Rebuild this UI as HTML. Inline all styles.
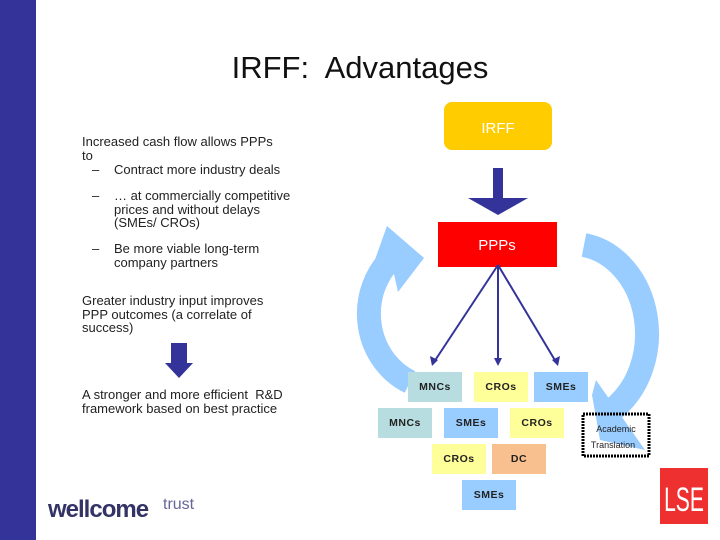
<!DOCTYPE html>
<html><head><style>
body{margin:0;width:720px;height:540px;position:relative;background:#fff;font-family:"Liberation Sans",sans-serif;overflow:hidden}
.a{position:absolute}
.t{font-size:13px;color:#222;line-height:13.5px}
.b{position:absolute;width:54px;height:30px;font-size:10.5px;font-weight:bold;color:#222;display:flex;align-items:center;justify-content:center;letter-spacing:0.5px}
.y{background:#ffff99}.g{background:#b7dde0}.s{background:#99ccff}.o{background:#f8c08f}
</style></head><body>
<div class="a" style="left:0;top:0;width:36px;height:540px;background:#333399"></div>
<div class="a" style="left:0;top:50px;width:720px;text-align:center;font-size:31px;color:#111">IRFF:&nbsp; Advantages</div>
<div class="a t" style="left:82px;top:135px">Increased cash flow allows PPPs<br>to</div>
<div class="a t" style="left:92px;top:163px">–</div><div class="a t" style="left:114px;top:163px">Contract more industry deals</div>
<div class="a t" style="left:92px;top:189px">–</div><div class="a t" style="left:114px;top:189px">… at commercially competitive<br>prices and without delays<br>(SMEs/ CROs)</div>
<div class="a t" style="left:92px;top:242px">–</div><div class="a t" style="left:114px;top:242px">Be more viable long-term<br>company partners</div>
<div class="a t" style="left:82px;top:294px">Greater industry input improves<br>PPP outcomes (a correlate of<br>success)</div>
<div class="a t" style="left:82px;top:388px">A stronger and more efficient&nbsp; R&amp;D<br>framework based on best practice</div>
<svg class="a" style="left:0;top:0" width="720" height="540">
<rect x="171" y="343" width="16" height="20" fill="#333399"/>
<polygon points="165,363 193,363 179,378" fill="#333399"/>
<path d="M410,382 A70,75 0 0 1 392,258" fill="none" stroke="#99ccff" stroke-width="24"/>
<polygon points="387,226 424,258 398,292 392,265 372,268" fill="#99ccff"/>
<path d="M584,245 A75,90 0 0 1 612,410" fill="none" stroke="#99ccff" stroke-width="24"/>
<polygon points="596,380 645,450 600,440 592,395" fill="#99ccff"/>
<rect x="444" y="102" width="108" height="48" rx="8" fill="#ffcc00"/>
<text x="498" y="133" font-size="15" fill="#fff" text-anchor="middle">IRFF</text>
<rect x="493" y="168" width="10" height="30" fill="#333399"/>
<polygon points="468,198 528,198 498,215" fill="#333399"/>
<rect x="438" y="222" width="119" height="45" fill="#ff0000"/>
<text x="497" y="250" font-size="15" fill="#fff" text-anchor="middle">PPPs</text>
<g stroke="#333399" stroke-width="2"><line x1="498" y1="265" x2="434" y2="362"/><line x1="498" y1="265" x2="498" y2="362"/><line x1="498" y1="265" x2="556" y2="362"/></g>
<g fill="#333399"><polygon points="432,366 430,356 438,360"/><polygon points="498,366 494,358 502,358"/><polygon points="558,366 552,360 560,356"/></g>
<rect x="583" y="414" width="66" height="42" fill="none" stroke="#000" stroke-width="3" stroke-dasharray="2,1"/>
<text x="616" y="432" font-size="9" text-anchor="middle" fill="#222">Academic</text>
<text x="613" y="448" font-size="9" text-anchor="middle" fill="#222">Translation</text>
<rect x="660" y="468" width="48" height="56" fill="#ee3030"/>
<text x="684" y="511" font-size="34" fill="#fff" text-anchor="middle" transform="translate(684,0) scale(0.62,1) translate(-684,0)">LSE</text>
<text x="48" y="517" font-size="24" font-weight="bold" fill="#333366" letter-spacing="-1">wellcome</text>
<text x="163" y="509" font-size="16" fill="#666699">trust</text>
</svg>
<div class="b g" style="left:408px;top:372px">MNCs</div>
<div class="b y" style="left:474px;top:372px">CROs</div>
<div class="b s" style="left:534px;top:372px">SMEs</div>
<div class="b g" style="left:378px;top:408px">MNCs</div>
<div class="b s" style="left:444px;top:408px">SMEs</div>
<div class="b y" style="left:510px;top:408px">CROs</div>
<div class="b y" style="left:432px;top:444px">CROs</div>
<div class="b o" style="left:492px;top:444px">DC</div>
<div class="b s" style="left:462px;top:480px">SMEs</div>
</body></html>
